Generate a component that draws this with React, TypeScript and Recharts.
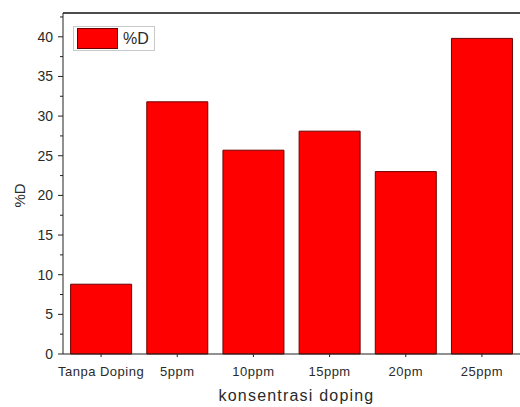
import React from 'react';
import { BarChart, Bar, XAxis, YAxis, Legend, ReferenceLine } from 'recharts';

const categories = ['Tanpa Doping', '5ppm', '10ppm', '15ppm', '20pm', '25ppm'];
const dValues = [8.8, 31.8, 25.7, 28.1, 23.0, 39.8];
const yTicks = [0, 2.5, 5, 7.5, 10, 12.5, 15, 17.5, 20, 22.5, 25, 27.5, 30, 32.5, 35, 37.5, 40, 42.5];
const seriesName = '%D';
const xTitle = 'konsentrasi doping';
const yTitle = '%D';

const data = categories.map((c, i) => ({ name: c, d: dValues[i] }));

const FONT = '"Liberation Sans", Arial, sans-serif';
const TEXT = '#2a2a2a';

const YTick = (props: any) => {
  const { x, y, payload } = props;
  const v = payload.value as number;
  const major = Math.abs(v % 5) < 1e-6;
  return (
    <g>
      <line x1={x + (major ? 5 : 7)} x2={x + 10} y1={y} y2={y} stroke="#222" strokeWidth={1} />
      {major && (
        <text x={x} y={y} dy="0.36em" textAnchor="end" fontSize={14} fill={TEXT} fontFamily={FONT}>
          {v}
        </text>
      )}
    </g>
  );
};

const XTick = (props: any) => {
  const { x, y, payload } = props;
  return (
    <text x={x} y={y} dy="0.71em" textAnchor="middle" fontSize={13} letterSpacing={0.5} fill={TEXT} fontFamily={FONT}>
      {payload.value}
    </text>
  );
};

const YLabel = (props: any) => {
  const vb = props.viewBox || {};
  const cx = 19;
  const cy = (vb.y ?? 0) + (vb.height ?? 0) / 2 + 12;
  return (
    <text x={cx} y={cy} transform={`rotate(-90 ${cx} ${cy})`} textAnchor="middle" dominantBaseline="central" fontSize={15} fill={TEXT} fontFamily={FONT}>
      {yTitle}
    </text>
  );
};

const LegendContent = () => (
  <div
    style={{
      display: 'flex',
      alignItems: 'center',
      border: '1px solid #c8c8c8',
      padding: '1px 5px 1px 3px',
      background: '#fff',
      fontFamily: FONT,
      fontSize: 16,
      color: TEXT,
      height: 21,
    }}
  >
    <div style={{ width: 39, height: 19, background: '#ff0000', border: '1px solid #6a0000', marginRight: 5 }} />
    <span>{seriesName}</span>
  </div>
);

export default function App() {
  return (
    <div style={{ position: 'absolute', left: 0, top: 0, width: 520, height: 407, background: '#fff' }}>
      <BarChart
        width={520}
        height={407}
        data={data}
        margin={{ top: 13, right: 0, bottom: 0, left: 0 }}
        barCategoryGap="10%"
      >
        <XAxis
          dataKey="name"
          height={53}
          tickSize={3}
          tickMargin={10}
          tick={<XTick />}
          axisLine={{ stroke: '#222', strokeWidth: 1 }}
          tickLine={{ stroke: '#222' }}
          label={{
            value: xTitle,
            position: 'insideBottom',
            offset: 6,
            dx: 5,
            fontSize: 16,
            letterSpacing: 1.2,
            fill: TEXT,
            fontFamily: FONT,
          }}
        />
        <YAxis
          width={63}
          domain={[0, 43]}
          ticks={yTicks}
          interval={0}
          tickSize={5}
          tickMargin={5}
          tickLine={false}
          tick={<YTick />}
          axisLine={{ stroke: '#222', strokeWidth: 1 }}
          label={<YLabel />}
        />
        <ReferenceLine y={43} stroke="#111" strokeWidth={1.5} ifOverflow="extendDomain" />
        <Legend
          layout="vertical"
          verticalAlign="middle"
          align="center"
          wrapperStyle={{ top: 26, left: 73, width: 'auto' }}
          content={<LegendContent />}
        />
        <Bar dataKey="d" name={seriesName} fill="#ff0000" stroke="#6a0000" strokeWidth={1} isAnimationActive={false} />
      </BarChart>
    </div>
  );
}
